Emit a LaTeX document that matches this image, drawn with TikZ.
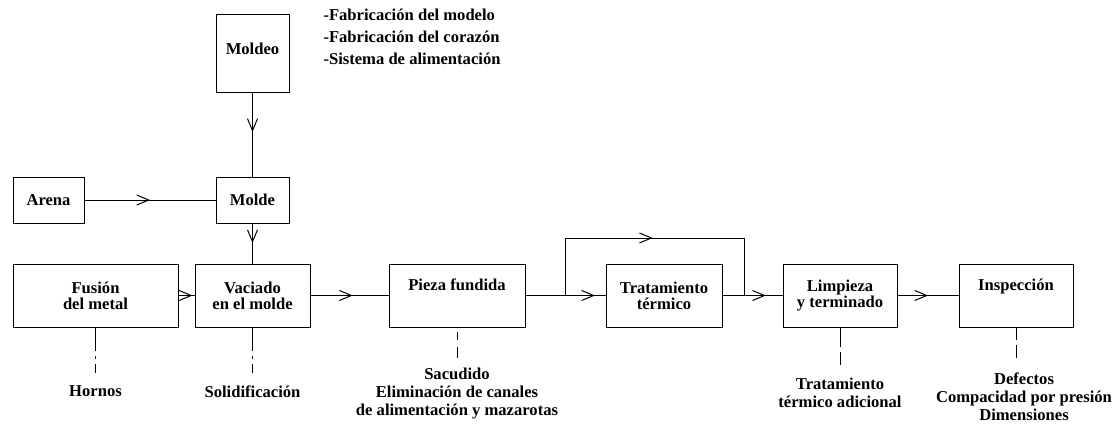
\documentclass[tikz,border=0pt]{standalone}
\usepackage{fontspec}
\setmainfont{Liberation Serif}
\usetikzlibrary{arrows.meta,decorations.markings}

\tikzset{
	caja/.style={draw,inner sep=0pt,outer sep=0pt,align=center,font=\fontsize{16.6}{16}\selectfont\bfseries},
	texto/.style={inner sep=0pt,align=center,font=\fontsize{16.6}{18}\selectfont\bfseries},
	flecha/.style={postaction={decorate},decoration={markings,mark=at position #1 with {\arrow{Straight Barb[length=12pt,width=10pt,line width=1pt]}}}},
	flecha/.default=0.5
}

\begin{document}
\begin{tikzpicture}[x=1pt,y=-1pt,line width=1pt]
	\useasboundingbox (0,0) rectangle (1118,423);
	\node[caja,minimum width=73pt,minimum height=78pt,text depth=8pt] (moldeo) at (252.5,53) {Moldeo};
	\node[caja,minimum width=71pt,minimum height=46pt] (arena) at (48.5,200) {Arena};
	\node[caja,minimum width=73pt,minimum height=46pt] (molde) at (252.5,200) {Molde};
	\node[caja,minimum width=165pt,minimum height=63pt] (fusion) at (95.5,295.5) {Fusión\\del metal};
	\node[caja,minimum width=115pt,minimum height=63pt] (vaciado) at (252.5,295.5) {Vaciado\\en el molde};
	\node[caja,minimum width=136pt,minimum height=63pt,text height=11pt,text depth=22pt] (pieza) at (457,295.5) {Pieza fundida};
	\node[caja,minimum width=116pt,minimum height=63pt] (tratamiento) at (664,295.5) {Tratamiento\\térmico};
	\node[caja,minimum width=114pt,minimum height=63pt] (limpieza) at (840,295.5) {Limpieza\\y terminado};
	\node[caja,minimum width=114pt,minimum height=63pt,text height=11pt,text depth=22pt] (inspeccion) at (1016,295.5) {Inspección};
	\node[texto,align=left,anchor=north west,font=\fontsize{16.6}{22}\selectfont\bfseries] (notas) at (323,8) {-Fabricación del modelo\\-Fabricación del corazón\\-Sistema de alimentación};
	\node[texto,anchor=north] (hornos) at (95.5,385) {Hornos};
	\node[texto,anchor=north] (solidificacion) at (252.5,385) {Solidificación};
	\node[texto,anchor=north] (sacudido) at (457,367) {Sacudido\\Eliminación de canales\\de alimentación y mazarotas};
	\node[texto,anchor=north] (adicional) at (840,377) {Tratamiento\\térmico adicional};
	\node[texto,anchor=north] (defectos) at (1024,372) {Defectos\\Compacidad por presión\\Dimensiones};
	\coordinate (split) at (565,295.5);
	\coordinate (join) at (744,295.5);
	\coordinate (arribaizq) at (565,238);
	\coordinate (arribader) at (744,238);
	\draw[flecha=0.47] (moldeo) -- (molde);
	\draw[flecha] (arena) -- (molde);
	\draw[flecha=0.49] (molde) -- (vaciado);
	\draw[flecha=0.85] (fusion) -- (vaciado);
	\draw[flecha=0.54] (vaciado) -- (pieza);
	\draw (pieza) -- (split);
	\draw[flecha=0.73] (split) -- (tratamiento);
	\draw (split) -- (arribaizq);
	\draw[flecha=0.49] (arribaizq) -- (arribader);
	\draw (arribader) -- (join);
	\draw (tratamiento) -- (join);
	\draw[flecha=0.56] (join) -- (limpieza);
	\draw[flecha] (limpieza) -- (inspeccion);
	\draw (fusion.south) -- ++(0,24) ++(0,5) -- ++(0,3) ++(0,5) -- ([yshift=12pt]hornos.north);
	\draw (vaciado.south) -- ++(0,24) ++(0,5) -- ++(0,3) ++(0,5) -- ([yshift=12pt]solidificacion.north);
	\draw ([yshift=-5pt]pieza.south) -- ++(0,8) ++(0,7) -- ([yshift=9pt]sacudido.north);
	\draw (limpieza.south) -- ++(0,20) ++(0,5) -- ([yshift=12pt]adicional.north);
	\draw (inspeccion.south) -- ++(0,13) ++(0,5) -- ([yshift=14pt]inspeccion.south |- defectos.north);
\end{tikzpicture}
\end{document}
